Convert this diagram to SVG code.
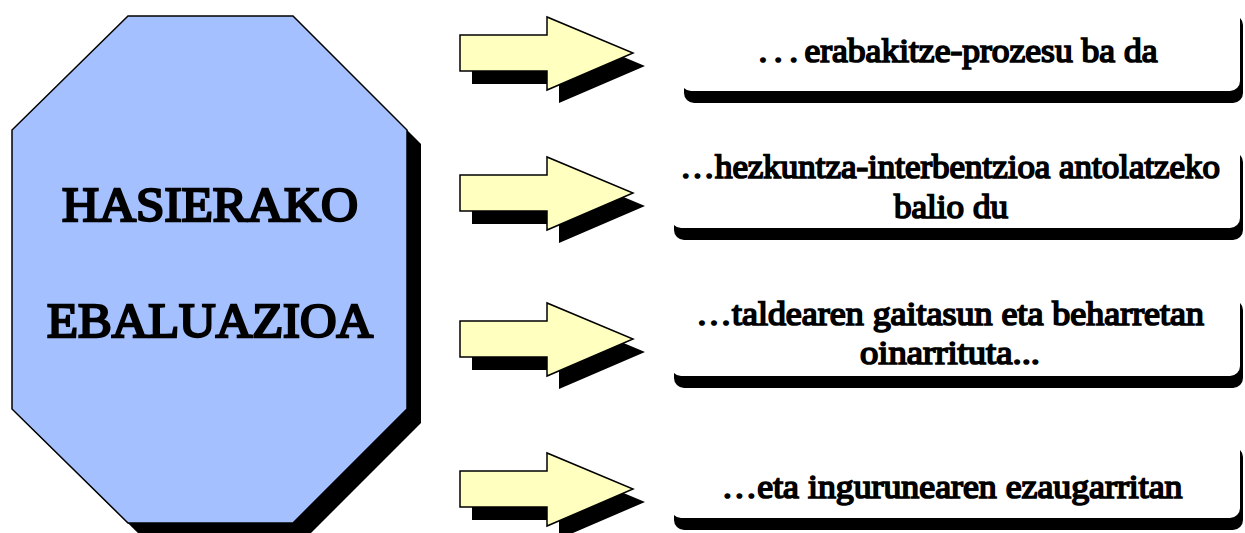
<svg xmlns="http://www.w3.org/2000/svg" width="1245" height="533" viewBox="0 0 1245 533">
<style>
.sh{fill:#000}
.oct{fill:#A4C0FF;stroke:#000;stroke-width:1.5}
.arr{fill:#FFFFC0;stroke:#000;stroke-width:1.5;stroke-linejoin:miter}
.box{fill:#fff}
</style>
<defs>
<path id="arrowShape" d="M0,-18 H87 V-36 L173,0 L87,37 V18 H0 Z"/>
</defs>
<rect width="1245" height="533" fill="#fff"/>
<g id="main">
<polygon class="sh" points="142,30 307,30 421,144 421,423 307,537 142,537 26,423 26,144"/>
<polygon class="oct" points="128,16 293,16 407,130 407,409 293,523 128,523 12,409 12,130"/>
<g font-family="Liberation Serif" font-size="48" fill="#000" stroke="#000" stroke-width="2.4" stroke-linejoin="miter" stroke-miterlimit="2" text-anchor="middle">
<text x="210" y="221" textLength="296" lengthAdjust="spacingAndGlyphs">HASIERAKO</text>
<text x="210" y="337" textLength="326" lengthAdjust="spacingAndGlyphs">EBALUAZIOA</text>
</g>
</g>
<g id="connectors">
<g transform="translate(460,53)"><use href="#arrowShape" class="sh" x="12" y="13"/><use href="#arrowShape" class="arr"/></g>
<g transform="translate(460,193)"><use href="#arrowShape" class="sh" x="12" y="13"/><use href="#arrowShape" class="arr"/></g>
<g transform="translate(460,339)"><use href="#arrowShape" class="sh" x="12" y="13"/><use href="#arrowShape" class="arr"/></g>
<g transform="translate(460,489)"><use href="#arrowShape" class="sh" x="12" y="13"/><use href="#arrowShape" class="arr"/></g>
</g>
<g id="box1" font-family="Liberation Serif" font-size="33" fill="#000" stroke-linejoin="miter" stroke-miterlimit="2" text-anchor="middle">
<rect class="sh" x="684" y="15" width="559" height="88" rx="10"/>
<rect class="box" x="681" y="3" width="559" height="88" rx="10"/>
<text x="958" y="62" textLength="399" lengthAdjust="spacingAndGlyphs" stroke="#000" stroke-width="1.7"><tspan letter-spacing="6">...</tspan>erabakitze-prozesu ba da</text>
</g>
<g id="box2" font-family="Liberation Serif" font-size="33" fill="#000" stroke-linejoin="miter" stroke-miterlimit="2" text-anchor="middle">
<rect class="sh" x="674" y="152" width="569" height="88" rx="10"/>
<rect class="box" x="671" y="140" width="569" height="88" rx="10"/>
<text x="950" y="178" textLength="540" lengthAdjust="spacingAndGlyphs" stroke="#000" stroke-width="1.7">…hezkuntza-interbentzioa antolatzeko</text>
<text x="951" y="218" textLength="114" lengthAdjust="spacingAndGlyphs" stroke="#000" stroke-width="1.7">balio du</text>
</g>
<g id="box3" font-family="Liberation Serif" font-size="33" fill="#000" stroke-linejoin="miter" stroke-miterlimit="2" text-anchor="middle">
<rect class="sh" x="674" y="300" width="569" height="88" rx="10"/>
<rect class="box" x="671" y="288" width="569" height="88" rx="10"/>
<text x="950" y="325" textLength="508" lengthAdjust="spacingAndGlyphs" stroke="#000" stroke-width="1.7">…taldearen gaitasun eta beharretan</text>
<text x="950" y="364" textLength="180" lengthAdjust="spacingAndGlyphs" stroke="#000" stroke-width="1.7">oinarrituta...</text>
</g>
<g id="box4" font-family="Liberation Serif" font-size="33" fill="#000" stroke-linejoin="miter" stroke-miterlimit="2" text-anchor="middle">
<rect class="sh" x="674" y="447" width="569" height="83" rx="10"/>
<rect class="box" x="671" y="435" width="569" height="83" rx="10"/>
<text x="952" y="498" textLength="461" lengthAdjust="spacingAndGlyphs" stroke="#000" stroke-width="1.7">…eta ingurunearen ezaugarritan</text>
</g>
</svg>
